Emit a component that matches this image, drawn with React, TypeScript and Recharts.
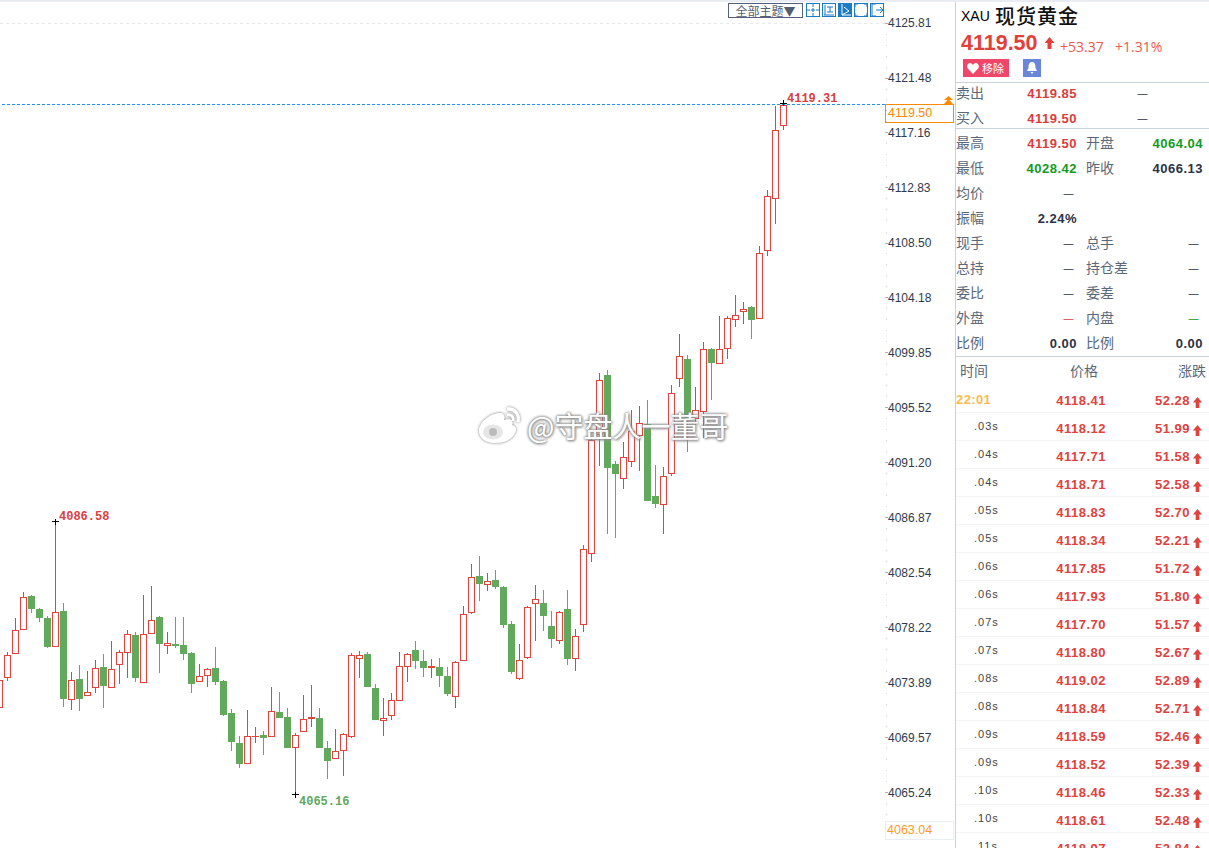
import { ComposedChart, Bar, XAxis, YAxis, ReferenceLine, ReferenceDot } from 'recharts';

const opens = [
  4071.99, 4074.31, 4076.20, 4078.08, 4080.73, 4079.70, 4078.99, 4076.75, 4079.55, 4072.58,
  4074.18, 4072.90, 4073.53, 4075.14, 4073.53, 4075.34, 4076.28, 4077.66, 4073.92, 4077.78,
  4079.07, 4076.83, 4076.95, 4076.87, 4076.24, 4074.00, 4074.47, 4075.06, 4074.04, 4071.52,
  4069.16, 4067.55, 4069.65, 4069.79, 4069.67, 4071.60, 4071.21, 4068.81, 4070.07, 4071.12,
  4071.13, 4068.77, 4067.94, 4068.57, 4069.67, 4075.81, 4076.16, 4073.49, 4070.93, 4071.32,
  4072.50, 4075.18, 4076.48, 4075.61, 4075.12, 4075.14, 4074.43, 4072.82, 4075.65, 4079.43,
  4082.30, 4081.63, 4081.99, 4081.43, 4078.52, 4074.24, 4075.89, 4080.14, 4080.17, 4078.37,
  4077.23, 4079.70, 4075.81, 4078.48, 4084.07, 4093.43, 4098.12, 4091.11, 4089.97, 4091.31,
  4093.35, 4094.26, 4088.59, 4087.93, 4090.37, 4097.84, 4099.37, 4094.69, 4095.24, 4100.16,
  4099.02, 4100.20, 4102.48, 4103.11, 4103.46, 4102.56, 4107.91, 4112.00, 4117.75,
];
const highs = [
  4074.20, 4076.30, 4078.99, 4081.01, 4080.81, 4079.78, 4079.15, 4086.58, 4080.17, 4074.75,
  4075.30, 4074.83, 4075.69, 4076.16, 4077.18, 4076.48, 4078.05, 4077.89, 4080.81, 4081.51,
  4079.15, 4077.89, 4079.07, 4079.07, 4076.32, 4075.38, 4075.06, 4076.71, 4074.12, 4071.84,
  4069.71, 4071.76, 4070.42, 4070.10, 4073.57, 4073.17, 4071.91, 4069.95, 4072.94, 4073.72,
  4071.91, 4069.32, 4070.26, 4069.95, 4076.24, 4076.40, 4076.32, 4073.80, 4072.70, 4073.09,
  4076.32, 4076.24, 4077.18, 4076.48, 4075.77, 4075.85, 4075.14, 4075.61, 4079.94, 4083.24,
  4083.87, 4082.54, 4082.77, 4081.51, 4078.76, 4076.95, 4079.94, 4081.59, 4081.20, 4079.55,
  4079.55, 4081.20, 4078.13, 4084.74, 4093.08, 4098.27, 4098.51, 4091.35, 4092.84, 4095.36,
  4095.68, 4096.15, 4091.03, 4090.88, 4097.33, 4101.34, 4099.69, 4097.19, 4100.71, 4100.24,
  4102.76, 4102.76, 4104.41, 4103.86, 4103.54, 4108.26, 4112.67, 4119.28, 4119.48,
];
const lows = [
  4071.90, 4074.04, 4076.20, 4078.08, 4079.39, 4078.68, 4076.63, 4076.75, 4071.99, 4071.76,
  4071.68, 4072.90, 4073.09, 4071.91, 4073.53, 4073.80, 4074.27, 4073.96, 4073.92, 4077.78,
  4074.67, 4076.16, 4076.63, 4075.69, 4073.09, 4074.00, 4073.57, 4073.72, 4071.28, 4068.53,
  4067.19, 4067.55, 4069.16, 4068.21, 4069.67, 4071.13, 4068.77, 4065.08, 4070.07, 4070.42,
  4068.77, 4066.33, 4067.94, 4066.56, 4069.58, 4074.27, 4073.57, 4070.97, 4069.71, 4070.97,
  4072.50, 4073.96, 4074.98, 4074.35, 4074.27, 4073.57, 4072.86, 4071.91, 4075.65, 4079.33,
  4080.33, 4081.12, 4081.28, 4078.21, 4074.59, 4074.14, 4075.79, 4077.18, 4077.97, 4076.63,
  4076.97, 4075.30, 4074.83, 4077.89, 4083.40, 4090.94, 4085.60, 4085.29, 4089.14, 4090.88,
  4090.56, 4088.20, 4087.65, 4085.60, 4090.17, 4097.19, 4092.06, 4094.18, 4093.16, 4096.15,
  4099.02, 4099.37, 4101.89, 4102.13, 4100.95, 4102.56, 4107.48, 4109.98, 4117.40,
];
const closes = [
  4074.11, 4076.04, 4078.01, 4080.61, 4079.70, 4078.99, 4076.71, 4079.43, 4072.62, 4074.08,
  4072.62, 4073.13, 4075.02, 4073.64, 4074.95, 4076.28, 4077.70, 4074.27, 4077.70, 4078.80,
  4076.95, 4076.99, 4076.79, 4076.16, 4073.80, 4074.39, 4074.95, 4073.96, 4071.36, 4069.24,
  4067.51, 4069.67, 4069.67, 4069.55, 4071.64, 4071.13, 4068.77, 4069.75, 4071.01, 4071.16,
  4068.77, 4067.74, 4068.49, 4069.83, 4076.04, 4076.04, 4073.57, 4070.97, 4071.09, 4072.50,
  4075.18, 4076.12, 4075.61, 4075.06, 4075.16, 4074.43, 4073.01, 4075.49, 4079.27, 4082.18,
  4081.67, 4081.87, 4081.43, 4078.44, 4074.75, 4075.65, 4079.82, 4080.45, 4079.15, 4077.34,
  4079.43, 4075.77, 4077.54, 4084.38, 4092.96, 4097.68, 4090.80, 4090.33, 4091.62, 4093.67,
  4094.30, 4088.20, 4087.97, 4090.13, 4096.66, 4099.57, 4094.65, 4095.32, 4100.12, 4099.06,
  4100.12, 4102.56, 4102.80, 4103.27, 4102.44, 4107.67, 4112.16, 4117.35, 4119.32,
];

const majorTicks = [
  4125.81, 4121.48, 4117.16, 4112.83, 4108.5, 4104.18, 4099.85, 4095.52, 4091.2, 4086.87, 4082.54,
  4078.22, 4073.89, 4069.57, 4065.24,
];

const markIndex = [7, 37, 98];
const markLabels = ['4086.58', '4065.16', '4119.31'];

const quoteLabels = ['卖出', '买入', '最高', '最低', '均价', '振幅', '现手', '总持', '委比', '外盘', '比例'];
const quoteValues = ['4119.85', '4119.50', '4119.50', '4028.42', '—', '2.24%', '—', '—', '—', '—', '0.00'];
const quoteLabels2 = ['', '', '开盘', '昨收', '', '', '总手', '持仓差', '委差', '内盘', '比例'];
const quoteValues2 = ['—', '—', '4064.04', '4066.13', '', '', '—', '—', '—', '—', '0.00'];

const tradeTimes = ['22:01', '.03s', '.04s', '.04s', '.05s', '.05s', '.06s', '.06s', '.07s', '.07s', '.08s', '.08s', '.09s', '.09s', '.10s', '.10s', '.11s'];
const tradePrices = ['4118.41', '4118.12', '4117.71', '4118.71', '4118.83', '4118.34', '4117.85', '4117.93', '4117.70', '4118.80', '4119.02', '4118.84', '4118.59', '4118.52', '4118.46', '4118.61', '4118.97'];
const tradeChanges = ['52.28', '51.99', '51.58', '52.58', '52.70', '52.21', '51.72', '51.80', '51.57', '52.67', '52.89', '52.71', '52.46', '52.39', '52.33', '52.48', '52.84'];

const RED = '#e0423e';
const GREEN = '#62a85d';
const ORANGE = '#ff8a00';
const SANS = '"Liberation Sans", Arial, sans-serif';
const CJK = '"Noto Sans CJK SC", sans-serif';

const rows: any[] = opens.map((o, i) => ({
  idx: 'c' + i,
  open: o,
  high: highs[i],
  low: lows[i],
  close: closes[i],
}));
// empty slots to the right of the last candle
for (let i = 0; i < 12; i++) rows.push({ idx: 'e' + i });

const axisTicks: number[] = [];
majorTicks.forEach((m, i) => {
  axisTicks.push(m);
  const next = majorTicks[i + 1];
  if (next) for (let j = 1; j < 5; j++) axisTicks.push(m - ((m - next) * j) / 5);
});
axisTicks.push(4064.37, 4063.51);

function Candle(props: any) {
  const { x, y, width, height, payload } = props;
  if (payload.high == null) return null;
  const top = Math.min(y, y + height);
  const h = Math.abs(height);
  const py = (p: number) => top + ((payload.high - p) / (payload.high - payload.low)) * h;
  const cx = x + width / 2;
  const up = payload.close >= payload.open;
  const color = up ? RED : GREEN;
  const wy = Math.round(py(payload.high));
  const wick = (
    <rect x={cx - 0.5} y={wy} width={1} height={Math.max(Math.round(py(payload.low)) - wy, 1)} fill={color} shapeRendering="crispEdges" />
  );
  if (!up) {
    const a = Math.round(py(payload.open));
    const b = Math.round(py(payload.close));
    return (
      <g>
        {wick}
        <rect x={x} y={a} width={width} height={Math.max(b - a, 1)} fill={color} shapeRendering="crispEdges" />
      </g>
    );
  }
  // hollow body: red block with a white block inside, so the edges stay on whole pixels
  const a = Math.floor(py(payload.close));
  const b = Math.floor(py(payload.open));
  return (
    <g>
      {wick}
      <rect x={x} y={a} width={width} height={b - a + 1} fill={color} shapeRendering="crispEdges" />
      {b - a > 1 && <rect x={x + 1} y={a + 1} width={width - 2} height={b - a - 1} fill="#fff" shapeRendering="crispEdges" />}
    </g>
  );
}

function AxisTick(props: any) {
  const { x, y, payload } = props;
  const major = majorTicks.includes(payload.value);
  return (
    <g>
      <line x1={x + (major ? 0 : 0.5)} x2={x + (major ? 3 : 2)} y1={y} y2={y} stroke={major ? '#aab0b8' : '#cfd2d7'} shapeRendering="crispEdges" />
      {major && (
        <text x={x + 3} y={y} dy="0.36em" fontSize={12} fontFamily={SANS} fill="#2f3a4c">
          {payload.value.toFixed(2)}
        </text>
      )}
    </g>
  );
}

function Mark(props: any) {
  const { cx, cy, label, below, color } = props;
  const mx = Math.floor(cx) + 0.5;
  return (
    <g>
      <line x1={mx - 3.5} x2={mx + 3.5} y1={Math.floor(cy) + 0.5} y2={Math.floor(cy) + 0.5} stroke="#000" shapeRendering="crispEdges" />
      <line x1={mx} x2={mx} y1={cy - 3} y2={cy + 3} stroke="#000" shapeRendering="crispEdges" />
      <text x={mx + 3.5} y={cy + (below ? 6 : -6)} dy="0.36em" fontSize={12} fontWeight="bold" fontFamily='"Liberation Mono", monospace' fill={color}>
        {label}
      </text>
    </g>
  );
}

function Txt({ x, right, y, children, style }: any) {
  return (
    <div
      style={{
        position: 'absolute',
        top: y,
        left: x,
        right: right != null ? 1209 - right : undefined,
        transform: 'translateY(-50%)',
        whiteSpace: 'nowrap',
        lineHeight: 1.2,
        fontFamily: SANS,
        ...style,
      }}
    >
      {children}
    </div>
  );
}

function UpArrow({ x, y, w, h, color }: any) {
  return (
    <svg style={{ position: 'absolute', left: x, top: y }} width={w} height={h} viewBox="0 0 10 12">
      <path d="M5 0 L10 6 L7 6 L7 12 L3 12 L3 6 L0 6 Z" fill={color} />
    </svg>
  );
}

const toolIcons = [
  'M7 1v3M7 10v3M1 7h3M10 7h3M6 6h2v2H6z',
  'M3 2v10M2 12h10M5 4h6M8 4v5M5 9h6',
  'M4 1v11h9M4 12l7-4M6 4l5 4',
  'M1 4V1h3M10 1h3v3M13 10v3h-3M4 13H1v-3',
  'M2 1v12h4M2 1h4M6 7h7M10 4l3 3-3 3',
];

function Toolbar() {
  return (
    <>
      <div style={{ position: 'absolute', left: 728, top: 3, width: 73, height: 13, border: '1px solid #55607a', fontFamily: CJK, fontSize: 12, lineHeight: '13px', color: '#555e70', textAlign: 'center' }}>
        全部主题▼
      </div>
      {toolIcons.map((d, i) => (
        <svg key={i} style={{ position: 'absolute', left: 806 + i * 16, top: 3 }} width={14} height={14} viewBox="0 0 14 14">
          <rect x={0.5} y={0.5} width={13} height={13} fill={i === 2 ? '#1b7cc4' : '#fff'} stroke="#1b7cc4" />
          <path d={d} fill="none" stroke={i === 2 ? '#fff' : '#1b7cc4'} strokeWidth={1} />
        </svg>
      ))}
    </>
  );
}

function Watermark() {
  return (
    <>
      <svg style={{ position: 'absolute', left: 474, top: 403 }} width={52} height={44} viewBox="0 0 52 44">
        <defs>
          <filter id="wm" x="-20%" y="-20%" width="140%" height="140%">
            <feDropShadow dx="0" dy="0" stdDeviation="1.6" floodColor="#777" />
          </filter>
        </defs>
        <g filter="url(#wm)">
          <path d="M5 28 C5 19 17 10 26 10 C30 10 31 13 30 17 C36 15 40 17 38 22 C42 23 43 26 41 30 C38 37 29 40 21 40 C12 40 5 35 5 28 Z" fill="#fff" />
          <ellipse cx="19" cy="29" rx="10" ry="7.5" fill="#e6e6e6" />
          <ellipse cx="19" cy="29" rx="4" ry="4" fill="#bbb" />
          <path d="M33 6 C40 5 46 11 44 19" fill="none" stroke="#fff" strokeWidth={3} />
          <path d="M33 12 C37 11 40 14 39 18" fill="none" stroke="#fff" strokeWidth={2.5} />
        </g>
      </svg>
      <div style={{ position: 'absolute', left: 527, top: 407, fontFamily: CJK, fontSize: 29, lineHeight: '36px', color: '#fff', whiteSpace: 'nowrap', textShadow: '0 0 3px #888, 0 0 3px #888, 1px 1px 3px #999' }}>
        @守盘人一董哥
      </div>
    </>
  );
}

function SidePanel() {
  const labelStyle = { fontFamily: CJK, fontSize: 14, color: '#5b6878' };
  const numStyle = { fontSize: 13, fontWeight: 'bold', letterSpacing: 0.5, color: '#2a3345' };
  const valueColor = (i: number) => (i < 3 ? '#dd3b3b' : i === 3 ? '#129a23' : '#2a3345');
  return (
    <>
      <div style={{ position: 'absolute', left: 955, top: 2, width: 1, height: 846, background: '#c8d2dc' }} />
      <Txt x={961} y={16} style={{ fontSize: 14, color: '#000' }}>XAU</Txt>
      <Txt x={995} y={16} style={{ fontFamily: CJK, fontSize: 20, fontWeight: 500, letterSpacing: 1, color: '#111' }}>现货黄金</Txt>
      <Txt x={961} y={44} style={{ fontSize: 21.5, fontWeight: 'bold', color: '#e2403a' }}>4119.50</Txt>
      <UpArrow x={1044} y={37} w={11} h={12} color="#e2403a" />
      <Txt x={1060} y={47} style={{ fontFamily: '"Open Sans"', fontSize: 14, color: '#ee5a4e' }}>+53.37</Txt>
      <Txt x={1115} y={47} style={{ fontFamily: '"Open Sans"', fontSize: 14, color: '#ee5a4e' }}>+1.31%</Txt>
      <div style={{ position: 'absolute', left: 963, top: 59, width: 46, height: 18, background: '#f0466a' }}>
        <svg style={{ position: 'absolute', left: 4, top: 4 }} width={12} height={11} viewBox="0 0 12 11">
          <path d="M6 11 L0.8 5.5 C-1 3 1 0 3.2 0 C4.6 0 5.5 1 6 2 C6.5 1 7.4 0 8.8 0 C11 0 13 3 11.2 5.5 Z" fill="#fff" />
        </svg>
        <div style={{ position: 'absolute', left: 19, top: 2, fontFamily: CJK, fontSize: 11, lineHeight: '14px', color: '#fff' }}>移除</div>
      </div>
      <div style={{ position: 'absolute', left: 1023, top: 59, width: 18, height: 18, background: '#6a86d8' }}>
        <svg style={{ position: 'absolute', left: 3, top: 3 }} width={12} height={12} viewBox="0 0 12 12">
          <path d="M6 0 C9 0 9.5 3 9.5 6 L11 9 L1 9 L2.5 6 C2.5 3 3 0 6 0 Z M4.5 10 H7.5 L6 12 Z" fill="#fff" />
        </svg>
      </div>
      <div style={{ position: 'absolute', left: 955, top: 82, width: 254, height: 1, background: '#c8d2dc' }} />
      <div style={{ position: 'absolute', left: 955, top: 128, width: 254, height: 1, background: '#c8d2dc' }} />
      <div style={{ position: 'absolute', left: 955, top: 356, width: 254, height: 1, background: '#c8d2dc' }} />

      {quoteLabels.map((l, i) => {
        const y = 93 + i * 25;
        const dash = quoteValues[i] === '—';
        const dash2 = quoteValues2[i] === '—';
        const colour2 = i === 2 ? '#129a23' : i === 9 ? '#129a23' : '#2a3345';
        return (
          <div key={i}>
            <Txt x={956} y={y - 1} style={labelStyle}>{l}</Txt>
            <Txt right={dash ? 1074 : 1077} y={y + 0.5} style={{ ...numStyle, color: i === 9 ? '#dd3b3b' : valueColor(i), ...(dash ? { fontWeight: 'normal', fontSize: 10 } : {}) }}>
              {quoteValues[i]}
            </Txt>
            {quoteLabels2[i] && <Txt x={1086} y={y - 1} style={labelStyle}>{quoteLabels2[i]}</Txt>}
            {quoteValues2[i] && (
              <Txt right={i < 2 ? 1148 : dash2 ? 1199 : 1203} y={y + 0.5} style={{ ...numStyle, color: colour2, ...(dash2 ? { fontWeight: 'normal', fontSize: 10 } : {}) }}>
                {quoteValues2[i]}
              </Txt>
            )}
          </div>
        );
      })}

      <Txt x={960} y={370} style={labelStyle}>时间</Txt>
      <Txt x={1070} y={370} style={labelStyle}>价格</Txt>
      <Txt x={1178} y={370} style={labelStyle}>涨跌</Txt>

      {tradeTimes.map((t, i) => {
        const y = 400 + i * 28;
        return (
          <div key={i}>
            <Txt
              x={i === 0 ? 956 : 974}
              y={i === 0 ? y : y - 1}
              style={i === 0 ? { fontSize: 13, fontWeight: 'bold', color: '#fdbb4d', letterSpacing: 0.4 } : { fontSize: 11, color: '#444', letterSpacing: 1 }}
            >
              {t}
            </Txt>
            <Txt right={1106} y={y + 1} style={{ ...numStyle, color: RED }}>{tradePrices[i]}</Txt>
            <Txt right={1190} y={y + 1} style={{ ...numStyle, color: RED }}>{tradeChanges[i]}</Txt>
            <UpArrow x={1192} y={y - 3} w={11} h={11} color={RED} />
            <div style={{ position: 'absolute', left: 956, top: y + 12, width: 253, height: 1, background: '#f2f4f6' }} />
          </div>
        );
      })}
    </>
  );
}

export default function App() {
  return (
    <div style={{ position: 'absolute', left: 0, top: 0, width: 1209, height: 848, overflow: 'hidden', background: '#fff' }}>
      <div style={{ position: 'absolute', left: -6, top: 0 }}>
        <ComposedChart width={960} height={848} data={rows} margin={{ top: 0, right: 0, bottom: 0, left: 1 }}>
          <XAxis dataKey="idx" hide padding={{ left: 0, right: 2 }} />
          <YAxis
            orientation="right"
            width={69}
            domain={[4060.9, 4127.62]}
            allowDataOverflow
            ticks={axisTicks}
            interval={0}
            axisLine={false}
            tickLine={false}
            tickSize={0}
            tickMargin={0}
            tick={<AxisTick />}
          />
          <ReferenceLine y={4125.81} stroke="#e6e8ea" strokeDasharray="3 3" shapeRendering="crispEdges" />
          <Bar
            dataKey={(d: any) => (d.low == null ? null : [d.low, d.high])}
            barSize={7}
            shape={<Candle />}
            isAnimationActive={false}
          />
          <ReferenceLine y={4119.4} stroke="#1e90ff" strokeDasharray="3 2" shapeRendering="crispEdges" />
          {markIndex.map((m, i) => (
            <ReferenceDot
              key={m}
              x={rows[m].idx}
              y={i === 1 ? rows[m].low : rows[m].high}
              shape={<Mark label={markLabels[i]} below={i === 1} color={i === 1 ? '#5fa85a' : '#d94040'} />}
            />
          ))}
        </ComposedChart>
      </div>

      <div style={{ position: 'absolute', left: 0, top: 0, width: 1209, height: 2, background: '#e9edf3' }} />

      <div style={{ position: 'absolute', left: 885, top: 104, width: 67, height: 17, border: `1px solid ${ORANGE}` }} />
      <Txt x={888} y={113} style={{ fontSize: 12.5, color: ORANGE }}>4119.50</Txt>
      <svg style={{ position: 'absolute', left: 944, top: 96 }} width={9} height={9} viewBox="0 0 9 9">
        <path d="M4.5 0 L9 4 H0 Z M4.5 3 L9 8 H0 Z" fill={ORANGE} />
      </svg>
      <div style={{ position: 'absolute', left: 885, top: 821, width: 67, height: 17, border: '1px solid #e8eef2' }} />
      <Txt x={887} y={830} style={{ fontSize: 12.5, color: '#ff9a1f' }}>4063.04</Txt>

      <Toolbar />
      <SidePanel />
      <Watermark />
    </div>
  );
}
